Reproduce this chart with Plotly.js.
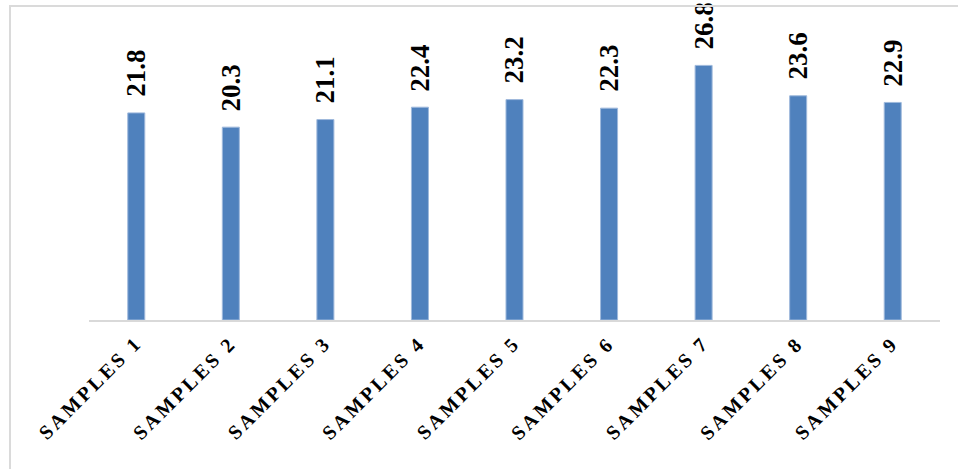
<!DOCTYPE html>
<html>
<head>
<meta charset="utf-8">
<script src="https://cdn.plot.ly/plotly-3.0.1.min.js"></script>
<style>
  html, body { margin: 0; padding: 0; background: #ffffff; overflow: hidden; }
  #wrap { position: relative; width: 958px; height: 469px; }
  #chart { position: absolute; left: 0; top: 0; width: 958px; height: 469px; }
  #frame { position: absolute; left: 9px; top: 5px; right: -10px; bottom: -10px;
           border: 2px solid #dadada; pointer-events: none; }
</style>
</head>
<body>
<div id="wrap">
  <div id="chart"></div>
  <div id="frame"></div>
</div>
<script>
// Sample categories and their measured values
const categories = ['SAMPLES 1', 'SAMPLES 2', 'SAMPLES 3', 'SAMPLES 4', 'SAMPLES 5',
                    'SAMPLES 6', 'SAMPLES 7', 'SAMPLES 8', 'SAMPLES 9'];
const values = [21.8, 20.3, 21.1, 22.4, 23.2, 22.3, 26.8, 23.6, 22.9];

const serif = 'Liberation Serif';

const trace = {
  type: 'bar',
  x: categories,
  y: values,
  width: 0.18,
  marker: { color: '#4f81bd', line: { color: '#9fb9dc', width: 1 } },
  hoverinfo: 'x+y'
};

// Vertical value labels sitting above each bar
const valueLabels = categories.map((c, i) => ({
  x: c,
  y: values[i],
  xref: 'x',
  yref: 'y',
  text: values[i].toFixed(1),
  textangle: -90,
  showarrow: false,
  xanchor: 'center',
  yanchor: 'bottom',
  yshift: 14,
  font: { family: serif, size: 27, color: '#000000', weight: 'bold' }
}));

// Diagonal, letter-spaced category labels under the axis
const categoryLabels = categories.map(c => ({
  x: c,
  y: 0,
  xref: 'x',
  yref: 'y',
  text: '<span style="letter-spacing:3px">' + c + '</span>',
  textangle: -45,
  showarrow: false,
  xanchor: 'right',
  yanchor: 'top',
  xshift: 12,
  yshift: -9,
  font: { family: serif, size: 20, color: '#000000', weight: 'bold' }
}));

const layout = {
  width: 958,
  height: 469,
  margin: { l: 89, r: 18, t: 35, b: 149 },
  paper_bgcolor: '#ffffff',
  plot_bgcolor: '#ffffff',
  showlegend: false,
  xaxis: {
    type: 'category',
    range: [-0.5, 8.5],
    showline: true,
    linecolor: '#d9d9d9',
    linewidth: 2,
    ticks: '',
    showticklabels: false,
    showgrid: false,
    zeroline: false
  },
  yaxis: {
    range: [0, 30],
    showgrid: false,
    zeroline: false,
    showline: false,
    showticklabels: false,
    ticks: ''
  },
  annotations: valueLabels.concat(categoryLabels)
};

Plotly.newPlot('chart', [trace], layout, { displayModeBar: false, staticPlot: true });
</script>
</body>
</html>
